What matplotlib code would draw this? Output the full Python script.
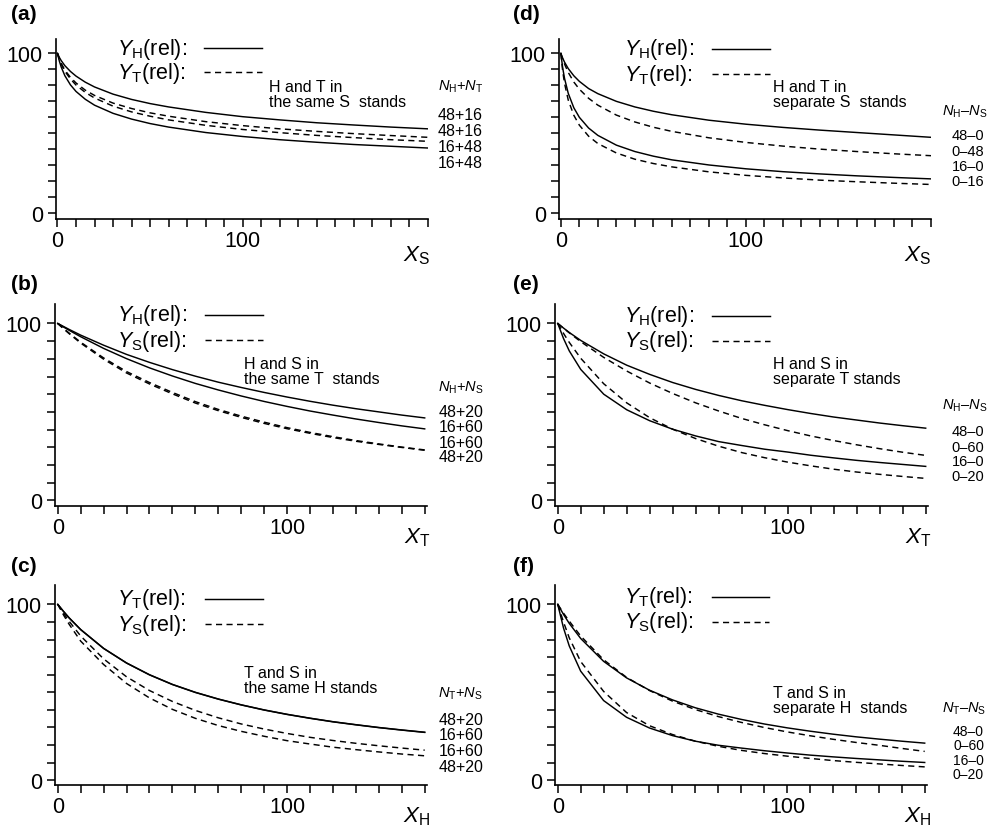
import matplotlib
matplotlib.use("Agg")
import matplotlib.pyplot as plt
from matplotlib.lines import Line2D
import numpy as np

plt.rcParams['font.family'] = ['Liberation Sans', 'DejaVu Sans']
plt.rcParams['mathtext.fontset'] = 'custom'
plt.rcParams['mathtext.rm'] = 'Liberation Sans'
plt.rcParams['mathtext.it'] = 'Liberation Sans:italic'
plt.rcParams['mathtext.bf'] = 'Liberation Sans:bold'

# ---------------- data ----------------
x_long = [0, 1, 2, 4, 7, 10, 15, 20, 30, 40, 50, 60, 80, 100, 120, 140, 160, 180, 200]
x_short = [0, 2.5, 5, 10, 20, 30, 40, 50, 60, 70, 80, 90, 100, 110, 120, 130, 140, 150, 160]

# (a) H and T in the same S stands
a_H_48_16 = [100, 97.5, 95.5, 92.3, 88.7, 85.8, 82.0, 79.0, 74.5, 71.2, 68.6, 66.5, 63.1, 60.4, 58.4, 56.6, 55.2, 53.9, 52.8]
a_T_48_16 = [100, 96.5, 93.8, 89.5, 85.0, 81.5, 77.0, 73.7, 68.9, 65.5, 62.8, 60.7, 57.3, 54.8, 52.8, 51.2, 49.8, 48.6, 47.5]
a_T_16_48 = [100, 96.2, 93.3, 88.8, 84.0, 80.2, 75.6, 72.1, 67.0, 63.4, 60.7, 58.4, 55.0, 52.4, 50.4, 48.7, 47.3, 46.0, 45.0]
a_H_16_48 = [100, 95.2, 91.5, 86.0, 80.3, 76.2, 71.3, 67.6, 62.5, 58.9, 56.1, 53.9, 50.5, 48.0, 46.0, 44.4, 43.0, 41.9, 40.8]

# (d) H and T in separate S stands
d_H_48_0 = [100, 97.0, 94.5, 90.5, 86.0, 82.5, 78.0, 74.8, 70.0, 66.5, 63.8, 61.6, 58.2, 55.7, 53.7, 52.0, 50.5, 49.0, 47.5]
d_T_0_48 = [100, 96.4, 93.3, 88.1, 82.1, 77.6, 71.9, 67.6, 61.4, 57.1, 53.8, 51.2, 47.2, 44.3, 42.0, 40.1, 38.6, 37.2, 36.0]
d_H_16_0 = [100, 90.9, 84.3, 75.0, 66.0, 60.0, 53.3, 48.7, 42.6, 38.6, 35.7, 33.4, 30.2, 27.8, 26.0, 24.6, 23.4, 22.4, 21.5]
d_T_0_16 = [100, 88.9, 81.2, 70.8, 61.3, 55.1, 48.2, 43.6, 37.7, 33.8, 31.1, 29.0, 25.9, 23.7, 22.1, 20.7, 19.7, 18.8, 18.0]

# (b) H and S in the same T stands
b_H_48_20 = [100, 98.3, 96.6, 93.4, 87.7, 82.5, 78.0, 73.9, 70.2, 66.8, 63.8, 61.0, 58.4, 56.0, 53.8, 51.8, 50.0, 48.2, 46.6]
b_H_16_60 = [100, 98.0, 96.1, 92.5, 85.9, 80.1, 74.9, 70.3, 66.1, 62.4, 59.0, 55.9, 53.1, 50.5, 48.2, 46.0, 44.0, 42.1, 40.4]
b_S_16_60 = [100, 97.2, 94.5, 89.4, 80.5, 72.8, 66.6, 61.0, 55.8, 51.4, 47.6, 44.2, 41.1, 38.4, 36.0, 33.8, 31.9, 30.1, 28.5]
b_S_48_20 = [100, 97.0, 94.2, 88.9, 79.8, 72.0, 65.8, 60.2, 55.0, 50.7, 46.9, 43.5, 40.5, 37.9, 35.5, 33.4, 31.6, 29.9, 28.3]

# (e) H and S in separate T stands
e_H_48_0 = [100, 97.4, 94.9, 90.4, 82.8, 76.4, 71.2, 66.6, 62.7, 59.3, 56.3, 53.7, 51.3, 49.1, 47.1, 45.4, 43.7, 42.2, 40.8]
e_S_0_60 = [100, 97.3, 94.7, 89.7, 80.8, 73.1, 66.3, 60.4, 55.1, 50.5, 46.3, 42.7, 39.4, 36.4, 33.8, 31.4, 29.2, 27.2, 25.4]
e_H_16_0 = [100, 91.5, 84.5, 74.0, 60.0, 51.2, 45.0, 40.2, 36.4, 33.2, 31.0, 28.9, 27.3, 25.5, 24.0, 22.6, 21.4, 20.3, 19.2]
e_S_0_20 = [100, 94.4, 89.3, 80.3, 65.9, 55.1, 46.7, 40.2, 34.9, 30.6, 27.0, 24.1, 21.6, 19.5, 17.6, 16.0, 14.7, 13.5, 12.4]

# (c) T and S in the same H stands
c_T_48_20 = [100, 96.0, 92.3, 85.7, 75.0, 66.7, 60.0, 54.5, 50.0, 46.2, 42.9, 40.0, 37.5, 35.3, 33.3, 31.6, 30.0, 28.6, 27.3]
c_T_16_60 = [100, 96.0, 92.2, 85.6, 74.9, 66.6, 59.9, 54.4, 49.9, 46.1, 42.8, 39.9, 37.4, 35.2, 33.2, 31.5, 29.9, 28.5, 27.2]
c_S_16_60 = [100, 95.0, 90.3, 82.0, 69.0, 58.8, 51.0, 44.8, 39.7, 35.5, 32.0, 29.1, 26.6, 24.4, 22.6, 21.0, 19.6, 18.3, 17.1]
c_S_48_20 = [100, 94.0, 88.6, 79.1, 65.8, 55.0, 46.8, 40.3, 35.2, 31.1, 27.8, 25.0, 22.5, 20.6, 18.8, 17.4, 16.1, 14.9, 13.9]

# (f) T and S in separate H stands
f_T_48_0 = [100, 94.3, 89.2, 80.6, 67.6, 58.2, 51.2, 45.7, 41.2, 37.6, 34.6, 32.0, 29.8, 27.9, 26.2, 24.7, 23.4, 22.2, 21.1]
f_S_0_60 = [100, 95.0, 90.5, 82.0, 68.5, 58.5, 51.0, 45.0, 40.2, 36.2, 32.9, 30.0, 27.5, 25.3, 23.3, 21.5, 19.9, 18.1, 16.4]
f_T_16_0 = [100, 86.6, 76.4, 62.0, 45.3, 35.8, 29.7, 25.4, 22.2, 19.9, 18.3, 16.8, 15.5, 14.3, 13.3, 12.4, 11.6, 10.8, 10.1]
f_S_0_20 = [100, 90.0, 81.0, 67.5, 50.5, 38.5, 31.0, 26.0, 22.2, 19.3, 17.0, 15.2, 13.7, 12.4, 11.2, 10.2, 9.3, 8.4, 7.6]

# ---------------- figure ----------------
W, H = 997, 828
fig = plt.figure(figsize=(W / 100, H / 100), dpi=100)
fig.patch.set_facecolor('white')


def fx(px):
    return px / W


def fy(py):
    return 1 - py / H


DASH = (0, (4.2, 3.0))
LW = 1.05

panels = [
    dict(tag='(a)', box=(56, 40, 428, 220), xlim=(-0.8, 200), ylim=(-3.6, 109), x=x_long,
         series=[(a_H_48_16, '-'), (a_T_48_16, DASH), (a_T_16_48, DASH), (a_H_16_48, '-')],
         leg=('$Y_{\\mathrm{H}}$(rel):', '$Y_{\\mathrm{T}}$(rel):'), legx=117, legy=(49, 73), linex=(204, 262),
         note='H and T in\nthe same S  stands', notexy=(269, 95),
         head='$N_{\\mathrm{H}}$+$N_{\\mathrm{T}}$', headxy=(438, 87),
         labs=['48+16', '48+16', '16+48', '16+48'], labx=483, laby=[115, 131, 147, 163], labfs=11.5,
         xlab='$X_{\\mathrm{S}}$', xlabxy=(430, 256), tagxy=(11, 15)),
    dict(tag='(b)', box=(55, 305, 427, 507), xlim=(-1.2, 161), ylim=(-3.2, 111), x=x_short,
         series=[(b_H_48_20, '-'), (b_H_16_60, '-'), (b_S_16_60, DASH), (b_S_48_20, DASH)],
         leg=('$Y_{\\mathrm{H}}$(rel):', '$Y_{\\mathrm{S}}$(rel):'), legx=117, legy=(316, 341), linex=(205, 263),
         note='H and S in\nthe same T  stands', notexy=(244, 372),
         head='$N_{\\mathrm{H}}$+$N_{\\mathrm{S}}$', headxy=(438, 388),
         labs=['48+20', '16+60', '16+60', '48+20'], labx=483, laby=[413, 428, 443, 458], labfs=11.5,
         xlab='$X_{\\mathrm{T}}$', xlabxy=(430, 538), tagxy=(11, 285)),
    dict(tag='(c)', box=(55, 586, 427, 786), xlim=(-1.2, 161), ylim=(-2.7, 111), x=x_short,
         series=[(c_T_48_20, '-'), (c_T_16_60, '-'), (c_S_16_60, DASH), (c_S_48_20, DASH)],
         leg=('$Y_{\\mathrm{T}}$(rel):', '$Y_{\\mathrm{S}}$(rel):'), legx=117, legy=(600, 625), linex=(205, 263),
         note='T and S in\nthe same H stands', notexy=(244, 681),
         head='$N_{\\mathrm{T}}$+$N_{\\mathrm{S}}$', headxy=(438, 694),
         labs=['48+20', '16+60', '16+60', '48+20'], labx=483, laby=[721, 736, 752, 768], labfs=11.5,
         xlab='$X_{\\mathrm{H}}$', xlabxy=(430, 817), tagxy=(11, 567)),
    dict(tag='(d)', box=(559, 40, 931, 220), xlim=(-1.0, 200), ylim=(-3.6, 109), x=x_long,
         series=[(d_H_48_0, '-'), (d_T_0_48, DASH), (d_H_16_0, '-'), (d_T_0_16, DASH)],
         leg=('$Y_{\\mathrm{H}}$(rel):', '$Y_{\\mathrm{T}}$(rel):'), legx=624, legy=(50, 75), linex=(712, 770),
         note='H and T in\nseparate S  stands', notexy=(773, 95),
         head='$N_{\\mathrm{H}}$–$N_{\\mathrm{S}}$', headxy=(942, 112),
         labs=['48–0', '0–48', '16–0', '0–16'], labx=984, laby=[136, 152, 167, 182], labfs=10.5,
         xlab='$X_{\\mathrm{S}}$', xlabxy=(931, 256), tagxy=(513, 15)),
    dict(tag='(e)', box=(555, 305, 928, 507), xlim=(-1.2, 161), ylim=(-3.2, 111), x=x_short,
         series=[(e_H_48_0, '-'), (e_S_0_60, DASH), (e_H_16_0, '-'), (e_S_0_20, DASH)],
         leg=('$Y_{\\mathrm{H}}$(rel):', '$Y_{\\mathrm{S}}$(rel):'), legx=624, legy=(317, 342), linex=(712, 770),
         note='H and S in\nseparate T stands', notexy=(773, 372),
         head='$N_{\\mathrm{H}}$–$N_{\\mathrm{S}}$', headxy=(942, 406),
         labs=['48–0', '0–60', '16–0', '0–20'], labx=984, laby=[432, 448, 462, 477], labfs=10.5,
         xlab='$X_{\\mathrm{T}}$', xlabxy=(931, 538), tagxy=(513, 285)),
    dict(tag='(f)', box=(555, 586, 927, 786), xlim=(-1.2, 161), ylim=(-2.7, 111), x=x_short,
         series=[(f_T_48_0, '-'), (f_S_0_60, DASH), (f_T_16_0, '-'), (f_S_0_20, DASH)],
         leg=('$Y_{\\mathrm{T}}$(rel):', '$Y_{\\mathrm{S}}$(rel):'), legx=624, legy=(598, 623), linex=(712, 769),
         note='T and S in\nseparate H  stands', notexy=(773, 701),
         head='$N_{\\mathrm{T}}$–$N_{\\mathrm{S}}$', headxy=(942, 709),
         labs=['48–0', '0–60', '16–0', '0–20'], labx=984, laby=[732, 746.5, 761, 775.5], labfs=10,
         xlab='$X_{\\mathrm{H}}$', xlabxy=(931, 817), tagxy=(513, 567)),
]

for p in panels:
    x0, y0, x1, y1 = p['box']
    ax = fig.add_axes([fx(x0), fy(y1), fx(x1 - x0), (y1 - y0) / H])
    ax.set_facecolor('none')
    for s in ('top', 'right'):
        ax.spines[s].set_visible(False)
    for s in ('left', 'bottom'):
        ax.spines[s].set_linewidth(1.2)
    for vals, ls in p['series']:
        ax.plot(p['x'], vals, color='black', lw=LW, linestyle=ls)
    ax.set_xlim(*p['xlim'])
    ax.set_ylim(*p['ylim'])
    xmax = int(round(p['xlim'][1] / 10.0) * 10)
    xt = np.arange(0, xmax + 1, 10)
    ax.set_xticks(xt)
    ax.set_xticklabels([str(int(t)) if t in (0, 100) else '' for t in xt])
    yt = np.arange(0, 101, 10)
    ax.set_yticks(yt)
    ax.set_yticklabels([str(int(t)) if t in (0, 100) else '' for t in yt])
    ax.tick_params(axis='both', direction='out', length=6, width=1.1, labelsize=15.5, colors='black')
    ax.tick_params(axis='x', pad=2)
    ax.tick_params(axis='y', pad=3.5)

    # legend texts and sample lines
    for i in range(2):
        fig.text(fx(p['legx']), fy(p['legy'][i]), p['leg'][i], fontsize=15.5,
                 ha='left', va='center')
    fig.add_artist(Line2D([fx(p['linex'][0]), fx(p['linex'][1])], [fy(p['legy'][0])] * 2,
                          transform=fig.transFigure, color='black', lw=LW))
    fig.add_artist(Line2D([fx(p['linex'][0]), fx(p['linex'][1])], [fy(p['legy'][1])] * 2,
                          transform=fig.transFigure, color='black', lw=LW, linestyle=DASH))

    fig.text(fx(p['notexy'][0]), fy(p['notexy'][1]), p['note'], fontsize=11.5,
             ha='left', va='center', linespacing=0.95)
    fig.text(fx(p['headxy'][0]), fy(p['headxy'][1]), p['head'], fontsize=10.5,
             ha='left', va='center')
    for lab, ly in zip(p['labs'], p['laby']):
        fig.text(fx(p['labx']), fy(ly), lab, fontsize=p['labfs'], ha='right', va='center')
    fig.text(fx(p['xlabxy'][0]), fy(p['xlabxy'][1]), p['xlab'], fontsize=16,
             ha='right', va='center')
    fig.text(fx(p['tagxy'][0]), fy(p['tagxy'][1]), p['tag'], fontsize=15,
             fontweight='bold', ha='left', va='center')

fig.savefig('out.png', dpi=100, facecolor='white')
